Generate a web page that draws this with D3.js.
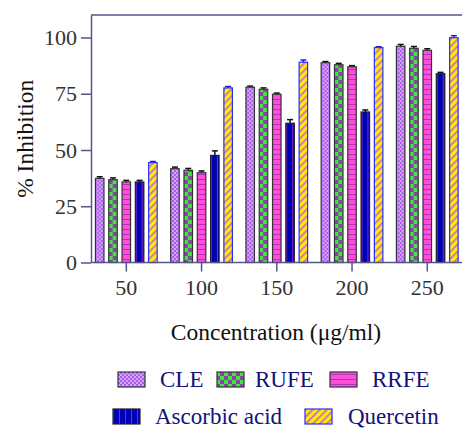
<!DOCTYPE html>
<html>
<head>
<meta charset="utf-8">
<script src="https://cdn.jsdelivr.net/npm/d3@7"></script>
<style>
  body { margin: 0; background: #fff; }
  svg { display: block; }
</style>
</head>
<body>
<svg id="chart" width="462" height="428"></svg>
<script>
// concentrations (µg/ml)
const categories = ['50', '100', '150', '200', '250'];
const seriesNames = ['CLE', 'RUFE', 'RRFE', 'Ascorbic acid', 'Quercetin'];

// % inhibition
const cle = [37.4, 41.7, 77.9, 88.8, 96.1];
const rufe = [36.8, 41.0, 77.0, 87.9, 95.2];
const rrfe = [35.8, 39.9, 74.8, 87.0, 94.3];
const ascorbic = [35.8, 47.6, 61.9, 66.9, 83.9];
const quercetin = [44.4, 77.6, 89.0, 95.5, 99.9];

// error (SD)
const cleErr = [0.7, 0.7, 0.5, 0.5, 0.8];
const rufeErr = [0.8, 0.8, 0.6, 0.6, 0.8];
const rrfeErr = [0.7, 0.8, 0.5, 0.5, 0.7];
const ascorbicErr = [0.7, 2.0, 1.6, 0.9, 0.6];
const quercetinErr = [0.5, 0.6, 1.0, 0.4, 0.9];

const yTicks = [0, 25, 50, 75, 100];

const values = [cle, rufe, rrfe, ascorbic, quercetin];
const errors = [cleErr, rufeErr, rrfeErr, ascorbicErr, quercetinErr];

const FONT = 'Liberation Serif';

const svg = d3.select('#chart');
const defs = svg.append('defs');

// fill patterns, one per series
const pat = (id, w, h) => defs.append('pattern')
  .attr('id', id).attr('patternUnits', 'userSpaceOnUse')
  .attr('width', w).attr('height', h);

let p = pat('p-cle', 4, 4);
p.append('rect').attr('width', 4).attr('height', 4).attr('fill', '#d7a2ff');
p.append('rect').attr('width', 2).attr('height', 2).attr('fill', '#a85ee8');
p.append('rect').attr('x', 2).attr('y', 2).attr('width', 2).attr('height', 2).attr('fill', '#a85ee8');

p = pat('p-rufe', 8, 8);
p.append('rect').attr('width', 8).attr('height', 8).attr('fill', '#3ee63e');
p.append('rect').attr('width', 4).attr('height', 4).attr('fill', '#8a44a8');
p.append('rect').attr('x', 4).attr('y', 4).attr('width', 4).attr('height', 4).attr('fill', '#8a44a8');

p = pat('p-rrfe', 4, 5);
p.append('rect').attr('width', 4).attr('height', 5).attr('fill', '#ff4fd6');
p.append('rect').attr('y', 4).attr('width', 4).attr('height', 1).attr('fill', '#b12fc4');

p = pat('p-asc', 6, 4);
p.append('rect').attr('width', 6).attr('height', 4).attr('fill', '#0000b4');
p.append('rect').attr('x', 5).attr('width', 1).attr('height', 4).attr('fill', '#7a2ad0');

p = pat('p-querc', 5, 5).attr('patternTransform', 'rotate(45)');
p.append('rect').attr('width', 5).attr('height', 5).attr('fill', '#ffee00');
p.append('rect').attr('width', 1.6).attr('height', 5).attr('fill', '#c466cc');

const fills = ['url(#p-cle)', 'url(#p-rufe)', 'url(#p-rrfe)', 'url(#p-asc)', 'url(#p-querc)'];
const strokes = ['#333', '#333', '#333', '#222', '#2a2aff'];
const errColors = ['#111', '#111', '#111', '#111', '#1a1aff'];

const axisColor = '#55558c';
const plotLeft = 91, plotTop = 15, plotBottom = 262.5;

const x0 = d3.scaleBand().domain(categories).range([88.7, 464.9]);
const x1 = d3.scaleBand().domain(seriesNames)
  .range([6.75, 68.45]).paddingInner(0.36).paddingOuter(0);
const y = d3.scaleLinear().domain([0, 110]).range([plotBottom, plotTop]);

// bars
const groups = svg.append('g').selectAll('g')
  .data(categories).join('g')
  .attr('transform', d => `translate(${x0(d)},0)`);

groups.each(function (cat, ci) {
  const g = d3.select(this);
  seriesNames.forEach((s, si) => {
    const v = values[si][ci];
    const e = errors[si][ci];
    const bx = x1(s), bw = x1.bandwidth();
    const cx = bx + bw / 2;
    g.append('line')
      .attr('x1', cx).attr('x2', cx)
      .attr('y1', y(v)).attr('y2', y(v + e))
      .attr('stroke', errColors[si]).attr('stroke-width', 1.5);
    g.append('line')
      .attr('x1', cx - 3).attr('x2', cx + 3)
      .attr('y1', y(v + e)).attr('y2', y(v + e))
      .attr('stroke', errColors[si]).attr('stroke-width', 1.5);
    g.append('rect')
      .attr('x', bx).attr('width', bw)
      .attr('y', y(v)).attr('height', y(0) - y(v))
      .attr('fill', fills[si])
      .attr('stroke', strokes[si]).attr('stroke-width', 1.2);
  });
});

// frame top line
svg.append('line')
  .attr('x1', plotLeft).attr('x2', 462).attr('y1', plotTop).attr('y2', plotTop)
  .attr('stroke', axisColor).attr('stroke-width', 1.5);

// y axis
const yAxis = svg.append('g')
  .attr('transform', `translate(${plotLeft},0)`)
  .call(d3.axisLeft(y).tickValues(yTicks).tickSize(10).tickSizeOuter(0).tickPadding(4));
yAxis.attr('font-family', null).attr('font-size', null);
yAxis.select('.domain').attr('stroke', axisColor).attr('stroke-width', 1.5);
yAxis.selectAll('.tick line').attr('stroke', axisColor).attr('stroke-width', 1.5);
yAxis.selectAll('.tick text').attr('fill', '#333')
  .attr('font-family', FONT).attr('font-size', 22);

// x axis
const xAxis = svg.append('g')
  .attr('transform', `translate(0,${plotBottom})`)
  .call(d3.axisBottom(x0).tickSize(9).tickSizeOuter(0).tickPadding(8));
xAxis.attr('font-family', null).attr('font-size', null);
xAxis.select('.domain').attr('stroke', axisColor).attr('stroke-width', 1.5)
  .attr('d', `M${plotLeft},0H470`);
xAxis.selectAll('.tick line').attr('stroke', axisColor).attr('stroke-width', 1.5);
xAxis.selectAll('.tick text').attr('fill', '#333')
  .attr('font-family', FONT).attr('font-size', 22);

// axis titles
svg.append('text')
  .attr('x', 276).attr('y', 340)
  .attr('text-anchor', 'middle').attr('font-size', 23.5).attr('font-family', FONT)
  .attr('fill', '#111')
  .text('Concentration (μg/ml)');

svg.append('text')
  .attr('transform', `translate(33,${(plotTop + plotBottom) / 2}) rotate(-90)`)
  .attr('text-anchor', 'middle').attr('font-size', 23.5).attr('font-family', FONT)
  .attr('fill', '#111')
  .text('% Inhibition');

// legend
const legendPos = [
  { sx: 118, tx: 160, y: 372 },
  { sx: 217, tx: 255, y: 372 },
  { sx: 330, tx: 372, y: 372 },
  { sx: 113, tx: 155, y: 409 },
  { sx: 305, tx: 348, y: 409 }
];
const legend = svg.append('g').selectAll('g')
  .data(seriesNames).join('g');
legend.append('rect')
  .attr('x', (d, i) => legendPos[i].sx).attr('y', (d, i) => legendPos[i].y)
  .attr('width', 27).attr('height', 15)
  .attr('fill', (d, i) => fills[i])
  .attr('stroke', (d, i) => strokes[i]).attr('stroke-width', 1.2);
legend.append('text')
  .attr('x', (d, i) => legendPos[i].tx).attr('y', (d, i) => legendPos[i].y + 15)
  .attr('font-size', 23).attr('font-family', FONT).attr('fill', '#12127a')
  .text(d => d);
</script>
</body>
</html>
